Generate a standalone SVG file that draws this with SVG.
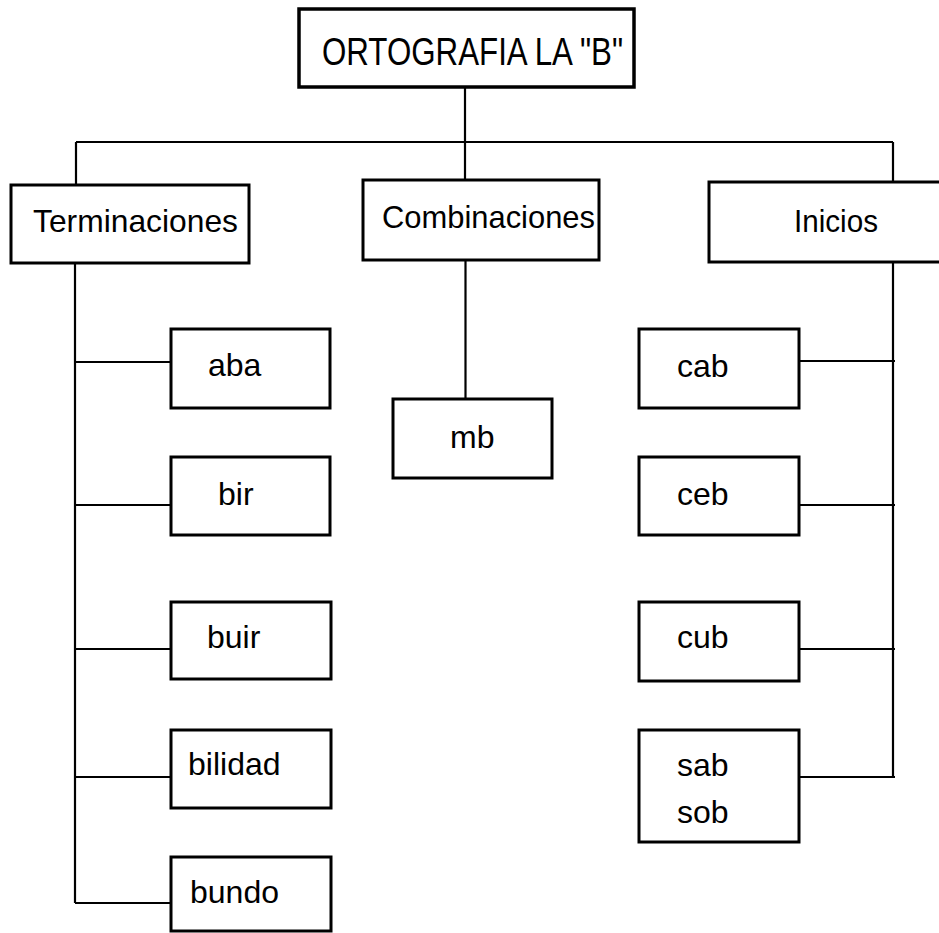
<svg xmlns="http://www.w3.org/2000/svg" width="939" height="933" viewBox="0 0 939 933">
<style>
.box{fill:#fff;stroke:#000;stroke-width:3}
.c{fill:none;stroke:#000;stroke-width:2.2}
text{font-family:"Liberation Sans",Arial,sans-serif;font-size:32px;fill:#000}
</style>
<rect width="939" height="933" fill="#fff"/>
<g id="connectors">
<path class="c" d="M465,87V180M76,142H893M76,142V185M893,142V182M465.5,260V399"/>
<path class="c" d="M75,263V903M75,362H171M75,505H171M75,649H171M75,777H171M75,903H171"/>
<path class="c" d="M893,262V777M799,361H895M799,505H895M799,649H895M799,777H895"/>
</g>
<g id="title"><rect class="box" x="299" y="9" width="335" height="78" style="stroke-width:3.5"/><text x="322" y="65" style="font-size:38px" textLength="301" lengthAdjust="spacingAndGlyphs">ORTOGRAFIA LA "B"</text></g>
<g id="terminaciones"><rect class="box" x="11" y="185" width="238" height="78"/><text x="33" y="232" textLength="205" lengthAdjust="spacingAndGlyphs">Terminaciones</text></g>
<g id="combinaciones"><rect class="box" x="363" y="180" width="236" height="80"/><text x="382" y="228" textLength="213" lengthAdjust="spacingAndGlyphs">Combinaciones</text></g>
<g id="inicios"><rect class="box" x="709" y="182" width="260" height="80"/><text x="794" y="232" textLength="84" lengthAdjust="spacingAndGlyphs">Inicios</text></g>
<g id="aba"><rect class="box" x="171" y="329" width="159" height="79"/><text x="208" y="376">aba</text></g>
<g id="bir"><rect class="box" x="171" y="457" width="159" height="78"/><text x="218" y="505">bir</text></g>
<g id="buir"><rect class="box" x="171" y="602" width="160" height="77"/><text x="207" y="648">buir</text></g>
<g id="bilidad"><rect class="box" x="171" y="730" width="160" height="78"/><text x="188" y="775">bilidad</text></g>
<g id="bundo"><rect class="box" x="171" y="857" width="160" height="74"/><text x="190" y="903">bundo</text></g>
<g id="mb"><rect class="box" x="393" y="399" width="159" height="79"/><text x="450" y="448">mb</text></g>
<g id="cab"><rect class="box" x="639" y="329" width="160" height="79"/><text x="677" y="377">cab</text></g>
<g id="ceb"><rect class="box" x="639" y="457" width="160" height="78"/><text x="677" y="505">ceb</text></g>
<g id="cub"><rect class="box" x="639" y="602" width="160" height="79"/><text x="677" y="648">cub</text></g>
<g id="sab-sob"><rect class="box" x="639" y="730" width="160" height="112"/><text x="677" y="776">sab</text><text x="677" y="823">sob</text></g>
</svg>
